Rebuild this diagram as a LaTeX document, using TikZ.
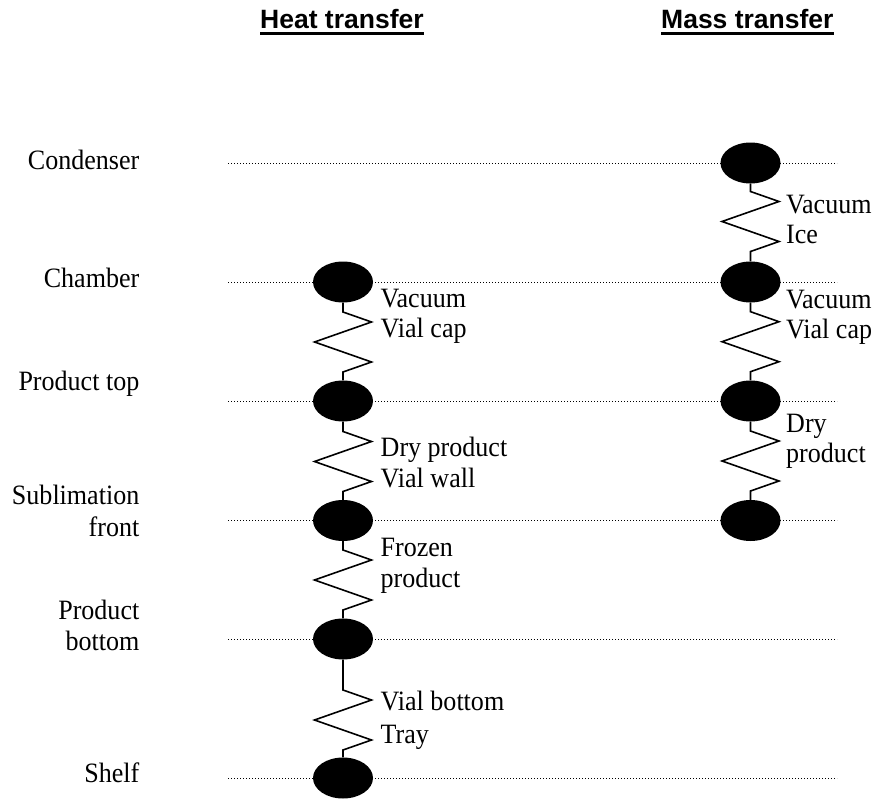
\documentclass[tikz,border=0pt]{standalone}
\usepackage{fontspec}
\setmainfont{Liberation Serif}[FakeStretch=0.93]
\newfontfamily\headfont{Liberation Sans}
\usetikzlibrary{shapes.geometric}
\tikzset{
  blob/.style={ellipse, fill=black, inner sep=0pt, minimum width=60pt, minimum height=41pt},
  lvl/.style={line width=1pt, dash pattern=on 1pt off 2pt},
  wire/.style={line width=1.6pt, line join=miter},
  lab/.style={inner sep=0pt, font=\fontsize{28}{30}\selectfont},
  head/.style={inner sep=0pt, font=\headfont\bfseries\fontsize{26.5}{30}\selectfont},
  uline/.style={line width=2.5pt}
}
\newcommand\zz[4]{%
  \draw[wire] (#1.south) -- (#3,#4-30) -- (#3+28.5,#4-20) -- (#3-28.5,#4)
    -- (#3+28.5,#4+20) -- (#3,#4+30) -- (#2.north);}
\begin{document}
\begin{tikzpicture}[x=1pt,y=-1pt]
\useasboundingbox (0,0) rectangle (879,800);
% level lines
\foreach \n/\y in {1/163,2/282,3/401,4/520.5,5/639,6/778}{
  \coordinate (a\n) at (228,\y);
  \coordinate (b\n) at (837,\y);
  \draw[lvl] (a\n) -- (b\n);
}
% headings
\node[head, anchor=base west] (ht) at (260,29) {Heat transfer};
\node[head, anchor=base west] (mt) at (661,29) {Mass transfer};
\draw[uline] ([yshift=-4.3pt]ht.base west) -- ([yshift=-4.3pt]ht.base east);
\draw[uline] ([yshift=-4.3pt]mt.base west) -- ([yshift=-4.3pt]mt.base east);
% level names
\node[lab, anchor=base east] (n1) at (139.5,169) {Condenser};
\node[lab, anchor=base east] (n2) at (139.5,287) {Chamber};
\node[lab, anchor=base east] (n3) at (139.5,390) {Product top};
\node[lab, anchor=base east] (n4a) at (139.5,504) {Sublimation};
\node[lab, anchor=base east] (n4b) at (139.5,536) {front};
\node[lab, anchor=base east] (n5a) at (139.5,619) {Product};
\node[lab, anchor=base east] (n5b) at (139.5,650) {bottom};
\node[lab, anchor=base east] (n6) at (139.5,782) {Shelf};
% heat transfer nodes
\node[blob] (H2) at (343,282) {};
\node[blob] (H3) at (343,401) {};
\node[blob] (H4) at (343,520.5) {};
\node[blob] (H5) at (343,639) {};
\node[blob] (H6) at (343,778) {};
% mass transfer nodes
\node[blob] (M1) at (750.5,163) {};
\node[blob] (M2) at (750.5,282) {};
\node[blob] (M3) at (750.5,401) {};
\node[blob] (M4) at (750.5,520.5) {};
% resistors
\zz{H2}{H3}{343}{342}
\zz{H3}{H4}{343}{461.5}
\zz{H4}{H5}{343}{580}
\zz{H5}{H6}{343}{720}
\zz{M1}{M2}{750.5}{221.5}
\zz{M2}{M3}{750.5}{341.7}
\zz{M3}{M4}{750.5}{461}
% resistor labels, heat
\node[lab, anchor=base west] (h1a) at (380.5,307) {Vacuum};
\node[lab, anchor=base west] (h1b) at (380.5,337) {Vial cap};
\node[lab, anchor=base west] (h2a) at (380.5,456) {Dry product};
\node[lab, anchor=base west] (h2b) at (380.5,487) {Vial wall};
\node[lab, anchor=base west] (h3a) at (380.5,556.5) {Frozen};
\node[lab, anchor=base west] (h3b) at (380.5,587) {product};
\node[lab, anchor=base west] (h4a) at (380.5,710.5) {Vial bottom};
\node[lab, anchor=base west] (h4b) at (380.5,743) {Tray};
% resistor labels, mass
\node[lab, anchor=base west] (m1a) at (786,213) {Vacuum};
\node[lab, anchor=base west] (m1b) at (786,243) {Ice};
\node[lab, anchor=base west] (m2a) at (786,308.5) {Vacuum};
\node[lab, anchor=base west] (m2b) at (786,338.5) {Vial cap};
\node[lab, anchor=base west] (m3a) at (786,432) {Dry};
\node[lab, anchor=base west] (m3b) at (786,462) {product};
\end{tikzpicture}
\end{document}
